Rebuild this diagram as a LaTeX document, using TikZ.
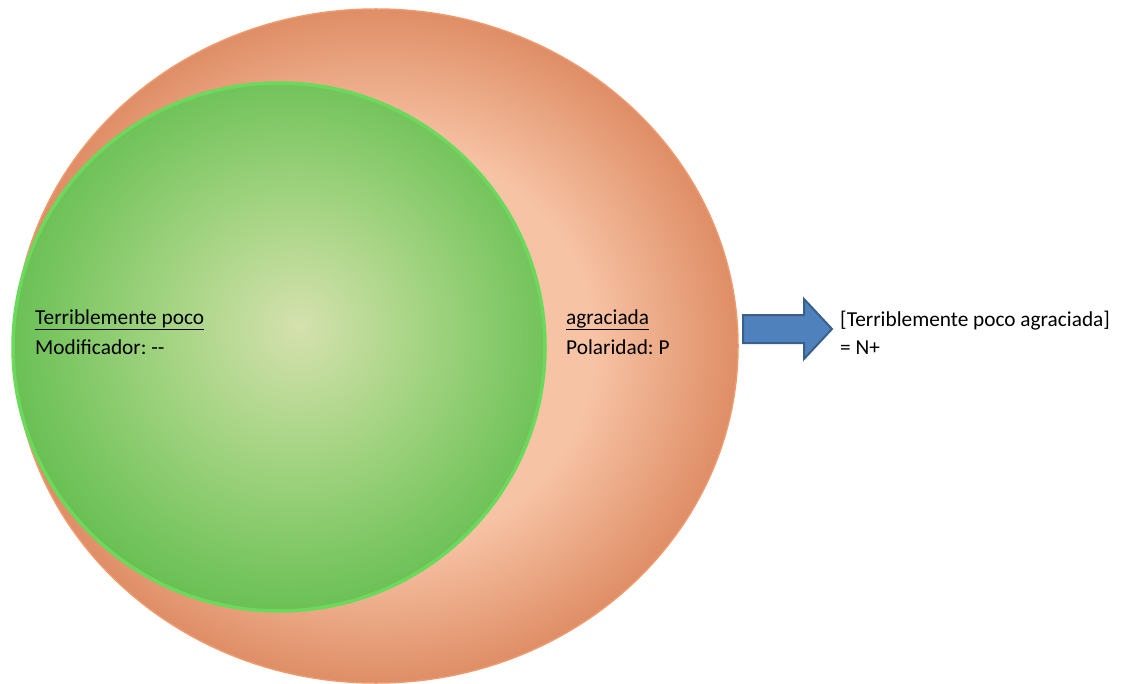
\documentclass[tikz,border=0pt]{standalone}
\usepackage{fontspec}
\setmainfont{Carlito}
\frenchspacing
\definecolor{orangeLight}{HTML}{F7C3A5}
\definecolor{orangeDark}{HTML}{DF8E66}
\definecolor{orangeLine}{HTML}{EE9A6C}
\definecolor{greenLight}{HTML}{D5E1AE}
\definecolor{greenMid}{HTML}{A4D482}
\definecolor{greenDark}{HTML}{66BF52}
\definecolor{greenLine}{HTML}{6BDA5C}
\definecolor{arrowFill}{HTML}{4F81BD}
\definecolor{arrowLine}{HTML}{3A5F8C}
\pgfdeclareradialshading{orangeball}{\pgfpoint{0bp}{0bp}}{%
  color(0bp)=(orangeLight); color(15bp)=(orangeLight); color(25bp)=(orangeDark); color(50bp)=(orangeDark)}
\pgfdeclareradialshading{greenball}{\pgfpoint{2bp}{2bp}}{%
  color(0bp)=(greenLight); color(12bp)=(greenMid); color(27bp)=(greenDark); color(50bp)=(greenDark)}
\tikzset{
  label text/.style={anchor=base west, inner sep=0pt, font=\fontsize{21.3}{24}\selectfont, text=black},
}
\begin{document}
\begin{tikzpicture}[x=1pt,y=-1pt]
  \useasboundingbox (0,0) rectangle (1123,684);
  % outer set
  \shade[shading=orangeball] (376,346) ellipse [x radius=362, y radius=337];
  \draw[orangeLine, line width=1.5pt] (376,346) ellipse [x radius=362, y radius=337];
  % inner set
  \shade[shading=greenball] (279,347) ellipse [x radius=266, y radius=264];
  \draw[greenLine, line width=3.5pt] (279,347) ellipse [x radius=266, y radius=264];
  % labels inside the sets
  \node[label text] (mod) at (35,324) {\underline{Terriblemente poco}};
  \node[label text] (modv) at (35,354) {Modificador: {-}{-}};
  \node[label text] (pol) at (566,324) {\underline{agraciada}};
  \node[label text] (polv) at (566,354) {Polaridad: P};
  % block arrow
  \filldraw[fill=arrowFill, draw=arrowLine, line width=2pt, line join=miter]
    (743,315) -- (804,315) -- (804,299) -- (832,329) -- (804,359) -- (804,343) -- (743,343) -- cycle;
  % result
  \node[label text] (res) at (840,326) {[Terriblemente poco agraciada]};
  \node[label text] (resv) at (840,354) {= N+};
\end{tikzpicture}
\end{document}
